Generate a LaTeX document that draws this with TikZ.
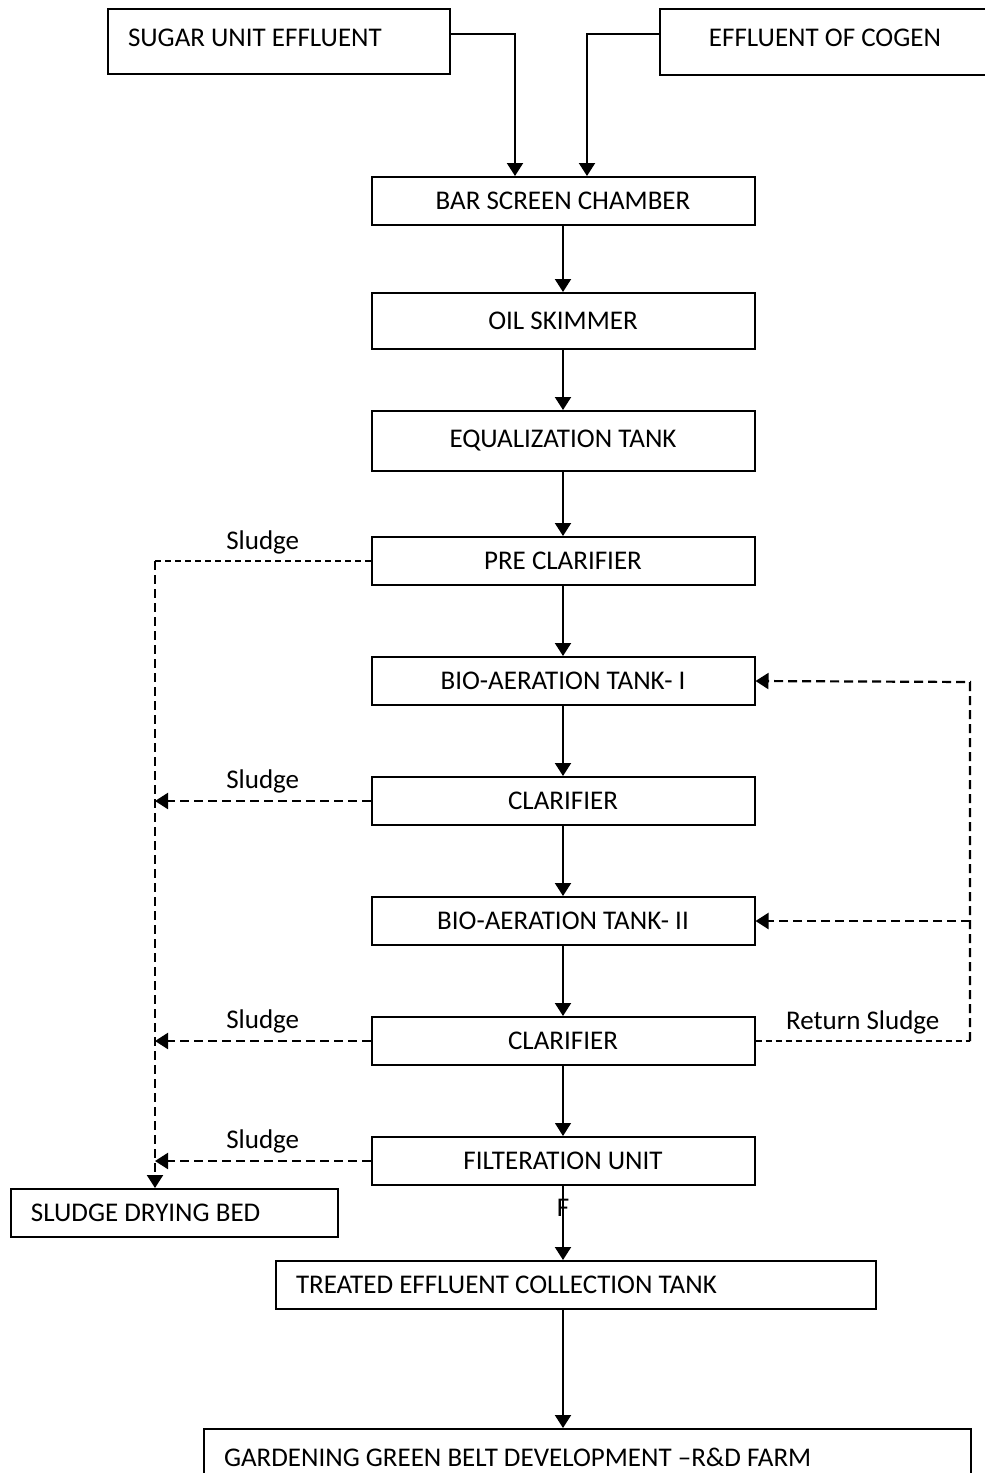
\documentclass[tikz,border=0pt]{standalone}
\usepackage{fontspec}
\setmainfont{Carlito}
\usetikzlibrary{arrows.meta, positioning}
\tikzstyle{unit} = [
    rectangle,
    minimum width=191.5pt,
    minimum height=24pt,
    inner sep=0pt,
    line width=1pt,
    draw=black
]
\tikzstyle{feed} = [
    rectangle,
    anchor=north west,
    align=flush left,
    inner xsep=10pt,
    inner ysep=0pt,
    line width=1pt,
    draw=black
]
\tikzstyle{arrow} = [line width=1pt,-{Triangle[length=6.5pt,width=8pt]}]
\tikzstyle{sludgeline} = [line width=0.7pt,dash pattern=on 3pt off 2pt]
\tikzstyle{sludgearrow} = [line width=1.1pt,dash pattern=on 4.5pt off 2.5pt,-{Triangle[length=6.5pt,width=8pt]}]

\begin{document}
\begin{tikzpicture}[x=0.5pt, y=-0.5pt, node distance=60pt,
    font=\fontsize{13.5}{16}\selectfont]
\useasboundingbox (0,0) rectangle (985,1473);

% sources
\node (sugar) [feed, text width=151pt, text depth=4pt, minimum height=32.5pt] at (107,8)
{SUGAR UNIT EFFLUENT};
\node (cogen) [feed, align=flush center, text width=145pt, text depth=4pt, minimum height=33pt] at (659,8)
{EFFLUENT OF COGEN};

% main treatment chain
\node (bar) [unit] at (563,201) {BAR SCREEN CHAMBER};
\node (oil) [unit, minimum height=28pt, below of=bar] {OIL SKIMMER};
\node (equal) [unit, minimum height=30pt, below of=oil] {EQUALIZATION TANK};
\node (pre) [unit, below of=equal] {PRE CLARIFIER};
\node (bio1) [unit, below of=pre] {BIO-AERATION TANK- I};
\node (clar1) [unit, below of=bio1] {CLARIFIER};
\node (bio2) [unit, below of=clar1] {BIO-AERATION TANK- II};
\node (clar2) [unit, below of=bio2] {CLARIFIER};
\node (filt) [unit, below of=clar2] {FILTERATION UNIT};
\node (stray) at (563,1208) {F};

% outlets
\node (dry) [feed, text width=143.5pt, minimum height=24pt] at (10,1188)
{SLUDGE DRYING BED};
\node (treated) [feed, text width=280pt, minimum height=24pt] at (275,1260)
{TREATED EFFLUENT COLLECTION TANK};
\node (garden) [feed, text width=363.5pt, minimum height=28pt] at (203,1428)
{GARDENING GREEN BELT DEVELOPMENT \textendash R\&D FARM};

\coordinate (sludgecol) at (155,561);
\coordinate (retcol) at (970,682);

\draw [arrow] ([yshift=4pt]sugar.east) -| ([xshift=-24pt]bar.north);
\draw [arrow] ([yshift=4pt]cogen.west) -| ([xshift=12pt]bar.north);
\draw [arrow] (bar) -- (oil);
\draw [arrow] (oil) -- (equal);
\draw [arrow] (equal) -- (pre);
\draw [arrow] (pre) -- (bio1);
\draw [arrow] (bio1) -- (clar1);
\draw [arrow] (clar1) -- (bio2);
\draw [arrow] (bio2) -- (clar2);
\draw [arrow, line width=0.6pt] (clar2) -- (filt);
\draw [arrow] (filt) -- (filt |- treated.north);
\draw [arrow] (filt |- treated.south) -- (filt |- garden.north);

% sludge
\draw [sludgeline] (pre.west) -- (sludgecol)
    node [midway, above] {Sludge};
\draw [sludgearrow] (sludgecol) -- (dry.north -| sludgecol);
\draw [sludgearrow] (clar1.west) -- (clar1.west -| sludgecol)
    node [midway, above] {Sludge};
\draw [sludgearrow] (clar2.west) -- (clar2.west -| sludgecol)
    node [midway, above] {Sludge};
\draw [sludgearrow] (filt.west) -- (filt.west -| sludgecol)
    node [midway, above] {Sludge};

% return sludge
\draw [sludgeline] (clar2.east) -- (clar2.east -| retcol)
    node [midway, above] {Return Sludge};
\draw [sludgearrow] (clar2.east -| retcol) -- (retcol) -- (bio1.east);
\draw [sludgearrow] (bio2.east -| retcol) -- (bio2.east);

\end{tikzpicture}
\end{document}
